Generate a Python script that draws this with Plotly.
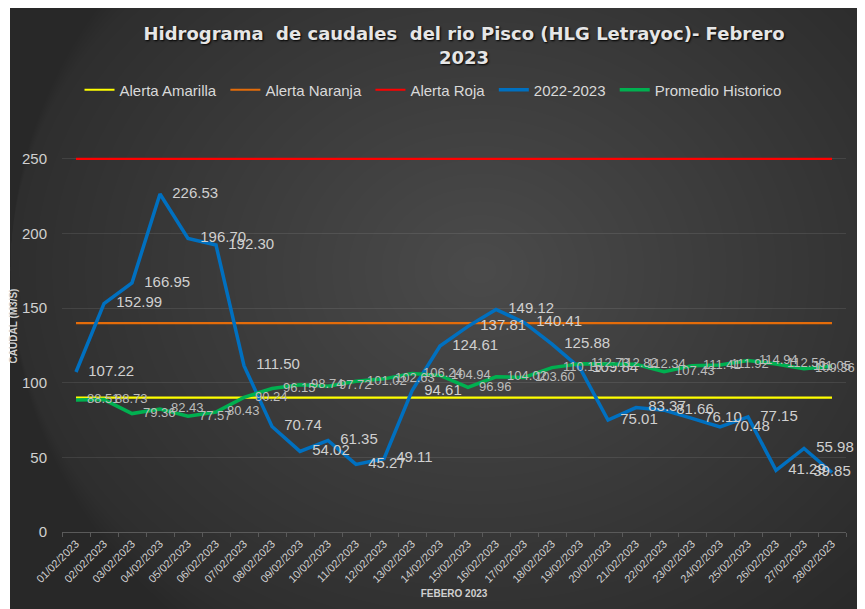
import plotly.graph_objects as go

# fechas de febrero 2023 (eje x)
fechas = ["01/02/2023", "02/02/2023", "03/02/2023", "04/02/2023", "05/02/2023",
          "06/02/2023", "07/02/2023", "08/02/2023", "09/02/2023", "10/02/2023",
          "11/02/2023", "12/02/2023", "13/02/2023", "14/02/2023", "15/02/2023",
          "16/02/2023", "17/02/2023", "18/02/2023", "19/02/2023", "20/02/2023",
          "21/02/2023", "22/02/2023", "23/02/2023", "24/02/2023", "25/02/2023",
          "26/02/2023", "27/02/2023", "28/02/2023"]

caudal_2022_2023 = [107.22, 152.99, 166.95, 226.53, 196.70, 192.30, 111.50, 70.74,
                    54.02, 61.35, 45.27, 49.11, 94.61, 124.61, 137.81, 149.12,
                    140.41, 125.88, 109.84, 75.01, 83.37, 81.66, 76.10, 70.48,
                    77.15, 41.29, 55.98, 39.85]

promedio_historico = [88.51, 88.73, 79.36, 82.43, 77.57, 80.43, 90.24, 96.15,
                      98.74, 97.72, 101.02, 102.63, 106.24, 104.94, 96.96, 104.02,
                      103.60, 110.15, 112.73, 112.82, 112.34, 107.43, 111.41, 111.92,
                      114.94, 112.56, 109.36, 111.05]

alerta_amarilla = 90
alerta_naranja = 140
alerta_roja = 250

NARROW = "Liberation Sans Narrow, Arial Narrow, sans-serif"
PAD = "\u00a0"  # pequeno espacio extra entre entradas de la leyenda

# la pagina tiene 8px de margen en el body -> coordenadas de figura = pagina - 8
OFF = 8
W, H = 865, 609
ML, MR, MT, MB = 62 - OFF, W - (846 - OFF), 120 - OFF, H - (532 - OFF)
PW, PH = W - ML - MR, H - MT - MB


def px_x(page_x):
    return (page_x - OFF - ML) / PW


def px_y(page_y):
    return (H - MB - (page_y - OFF)) / PH


# la ultima etiqueta se centra para no salirse del grafico (como en Excel)
pos_etiquetas = ["middle right"] * (len(fechas) - 1) + ["middle center"]

fig = go.Figure()

# umbrales de alerta
for nombre, valor, color in [("Alerta Amarilla", alerta_amarilla, "#ffff00"),
                             ("Alerta Naranja", alerta_naranja, "#e46c0a"),
                             ("Alerta Roja", alerta_roja, "#ff0000")]:
    fig.add_trace(go.Scatter(
        x=fechas, y=[valor] * len(fechas), mode="lines", name=nombre + PAD,
        line=dict(color=color, width=2.2)
    ))

fig.add_trace(go.Scatter(
    x=fechas, y=caudal_2022_2023, mode="lines+markers+text", name="2022-2023" + PAD,
    line=dict(color="#0070c0", width=3.5),
    marker=dict(size=18, color="rgba(0,0,0,0)"),
    text=[f"{v:.2f}" for v in caudal_2022_2023],
    textposition=pos_etiquetas,
    textfont=dict(family=NARROW, size=15, color="#d0d0d0"),
    cliponaxis=False
))

fig.add_trace(go.Scatter(
    x=fechas, y=promedio_historico, mode="lines+markers+text", name="Promedio Historico",
    line=dict(color="#00b050", width=3.5),
    marker=dict(size=16, color="rgba(0,0,0,0)"),
    text=[f"{v:.2f}" for v in promedio_historico],
    textposition=pos_etiquetas,
    textfont=dict(family=NARROW, size=13, color="#bdbdbd"),
    cliponaxis=False
))

# fondo oscuro con degradado radial aproximado
shapes = [dict(type="rect", xref="paper", yref="paper", layer="below",
               x0=px_x(10), x1=px_x(W + 20), y0=px_y(H + 20), y1=px_y(-20),
               fillcolor="#282828", line=dict(width=0))]
cx, cy = px_x(480), px_y(270)
n = 34
for i in range(n):
    f = 1.0 - i / n
    rx, ry = 560 * f / PW, 470 * f / PH
    shapes.append(dict(
        type="circle", xref="paper", yref="paper", layer="below",
        x0=max(cx - rx, px_x(10)), x1=cx + rx, y0=cy - ry, y1=cy + ry,
        fillcolor="rgba(255,255,255,0.0075)", line=dict(width=0)
    ))

fig.update_layout(
    width=W, height=H,
    paper_bgcolor="#ffffff",
    plot_bgcolor="rgba(0,0,0,0)",
    shapes=shapes,
    margin=dict(l=ML, r=MR, t=MT, b=MB, autoexpand=False),
    title=dict(
        text="Hidrograma  de caudales  del rio Pisco (HLG Letrayoc)- Febrero<br>2023",
        x=(464 - OFF) / W, xanchor="center", y=0.947, yanchor="top",
        font=dict(family="DejaVu Sans, sans-serif", size=18, color="#e6e6e6",
                  weight="bold", shadow="1px 1px 2px #000")
    ),
    legend=dict(
        orientation="h", x=px_x(433), xanchor="center", y=px_y(90), yanchor="middle",
        font=dict(family=NARROW, size=15, color="#d9d9d9"),
        itemwidth=30, bgcolor="rgba(0,0,0,0)"
    ),
    xaxis=dict(
        type="category", range=[-0.5, 27.5], tickangle=-45, tickson="boundaries",
        ticks="outside", ticklen=4, tickcolor="#5a5a5a",
        showline=True, linecolor="#5a5a5a", linewidth=1, showgrid=False,
        tickfont=dict(family=NARROW, size=11, color="#d0d0d0"),
        title=dict(text="<b>FEBERO 2023</b>", standoff=6,
                   font=dict(family="Liberation Sans, Arial, sans-serif", size=10, color="#d0d0d0"))
    ),
    yaxis=dict(
        range=[0, 276.1], tickvals=[0, 50, 100, 150, 200, 250],
        showgrid=True, gridcolor="rgba(255,255,255,0.09)", gridwidth=1,
        zeroline=False, ticklabelstandoff=14,
        tickfont=dict(family="Liberation Sans, Arial, sans-serif", size=15, color="#d0d0d0"),
        title=dict(text="<b>CAUDAL (M3/S)</b>", standoff=2,
                   font=dict(family="Liberation Sans, Arial, sans-serif", size=10, color="#d0d0d0"))
    ),
    showlegend=True,
)

fig.write_html("out.html")
